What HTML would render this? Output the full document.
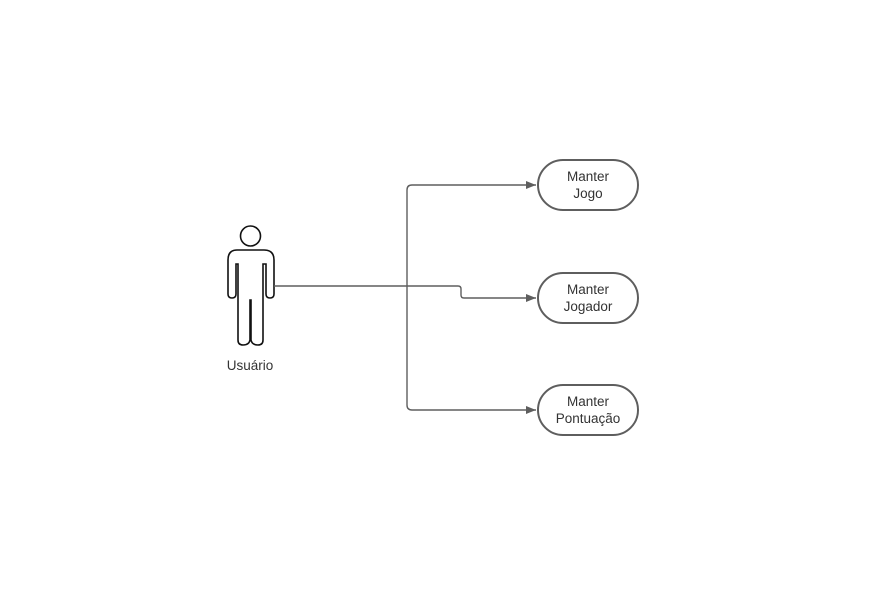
<!DOCTYPE html>
<html><head><style>body{margin:0;background:#fff}svg{display:block}</style></head><body>
<svg width="873" height="601" viewBox="0 0 873 601" xmlns="http://www.w3.org/2000/svg">
<defs><marker id="a" markerWidth="10" markerHeight="8" refX="10" refY="4" orient="auto" markerUnits="userSpaceOnUse"><path d="M0,0 L10,4 L0,8 Z" fill="#5e5e5e"/></marker></defs>
<g fill="none" stroke="#111" stroke-width="1.6">
<circle cx="250.5" cy="236" r="10"/>
<path d="M237,250 H264 Q274,250 274,260 V294 Q274,298 270,298 Q266,298 266,294 V264 H263 V340 Q263,345 258,345 Q252,345 251,340 V300 H250 V340 Q249,345 243,345 Q238,345 238,340 V264 H236 V294 Q236,298 232,298 Q228,298 228,294 V260 Q228,250 237,250 Z"/>
</g>
<g fill="none" stroke="#5e5e5e" stroke-width="1.4">
<path d="M274,286 H407"/>
<path d="M407,286 V190 Q407,185 412,185 H536" marker-end="url(#a)"/>
<path d="M407,286 V405 Q407,410 412,410 H536" marker-end="url(#a)"/>
<path d="M407,286 H458 Q461,286 461,289 V295 Q461,298 464,298 H536" marker-end="url(#a)"/>
</g>
<g fill="#fff" stroke="#5e5e5e" stroke-width="2">
<rect x="538" y="160" width="100" height="50" rx="25"/>
<rect x="538" y="273" width="100" height="50" rx="25"/>
<rect x="538" y="385" width="100" height="50" rx="25"/>
</g>
<g font-family="Liberation Sans, sans-serif" font-size="13.5" fill="#333" text-anchor="middle">
<text x="588" y="181">Manter</text><text x="588" y="198">Jogo</text>
<text x="588" y="294">Manter</text><text x="588" y="311">Jogador</text>
<text x="588" y="406">Manter</text><text x="588" y="423">Pontuação</text>
<text x="250" y="370">Usuário</text>
</g>
</svg>
</body></html>
